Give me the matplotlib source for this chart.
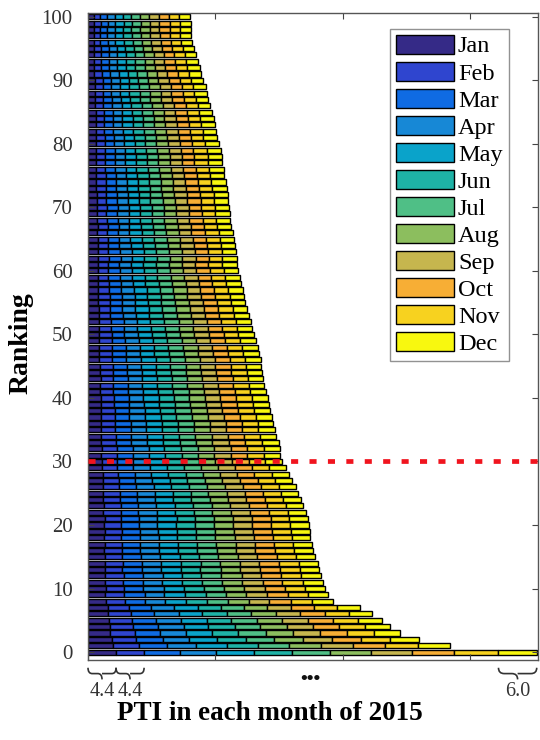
import numpy as np
import matplotlib
matplotlib.use("Agg")
import matplotlib.pyplot as plt
from matplotlib.path import Path
from matplotlib.patches import PathPatch
import matplotlib.transforms as mtransforms

months = ["Jan", "Feb", "Mar", "Apr", "May", "Jun",
          "Jul", "Aug", "Sep", "Oct", "Nov", "Dec"]
month_colors = ["#352A87", "#2F45CF", "#0F6BE3", "#1788D6", "#0AA3CA", "#1EB2A6",
                "#4FBF86", "#8CBE5E", "#C6B64E", "#F7AE35", "#F7D21F", "#F8F80F"]

# Ranking positions (bottom bar = top ranked)
ranking = list(range(0, 101))

# Monthly PTI per ranked item, Jan..Dec, listed from ranking 0 upwards
pti_rows = [
    [4.4, 4.4, 5.6, 5.7, 5.9, 6.0, 6.0, 6.4, 6.5, 6.5, 7.0, 6.0],
    [3.9, 4.1, 4.4, 4.6, 4.8, 4.9, 4.8, 5.0, 5.0, 5.1, 5.2, 5.0],
    [3.7, 3.9, 4.1, 4.2, 4.4, 4.5, 4.4, 4.6, 4.5, 4.6, 4.5, 4.5],
    [3.5, 3.8, 4.0, 4.1, 4.0, 4.2, 4.3, 4.2, 4.3, 4.2, 4.3, 4.1],
    [3.4, 3.7, 3.9, 4.0, 3.9, 4.1, 4.0, 4.2, 4.1, 4.1, 4.0, 4.0],
    [3.3, 3.6, 3.8, 3.9, 4.0, 3.9, 4.0, 3.9, 4.1, 4.0, 3.9, 3.8],
    [3.2, 3.5, 3.7, 3.8, 3.7, 3.9, 3.8, 3.9, 3.8, 3.9, 3.7, 3.7],
    [3.1, 3.3, 3.5, 3.6, 3.7, 3.6, 3.7, 3.6, 3.7, 3.6, 3.6, 3.6],
    [2.8, 3.0, 3.1, 3.2, 3.3, 3.2, 3.3, 3.3, 3.2, 3.4, 3.3, 3.3],
    [2.7, 3.0, 3.2, 3.1, 3.2, 3.3, 3.1, 3.2, 3.3, 3.2, 3.2, 3.1],
    [2.8, 2.9, 3.0, 3.2, 3.1, 3.2, 3.2, 3.1, 3.2, 3.2, 3.1, 3.2],
    [2.6, 2.9, 3.1, 3.0, 3.2, 3.1, 3.2, 3.1, 3.2, 3.1, 3.2, 3.1],
    [2.7, 2.9, 3.0, 3.1, 3.0, 3.1, 3.1, 3.2, 3.1, 3.1, 3.1, 3.1],
    [2.6, 2.8, 3.0, 3.1, 3.1, 3.0, 3.2, 3.1, 3.1, 3.1, 3.1, 3.1],
    [2.7, 2.8, 3.0, 3.0, 3.1, 3.1, 3.0, 3.1, 3.1, 3.1, 3.1, 3.0],
    [2.6, 2.8, 2.9, 3.0, 3.1, 3.0, 3.0, 3.1, 3.0, 3.1, 3.0, 3.0],
    [2.5, 2.8, 2.9, 3.0, 2.9, 3.0, 3.1, 3.0, 3.0, 3.1, 3.0, 3.0],
    [2.6, 2.7, 2.9, 2.9, 3.0, 3.0, 3.0, 3.1, 3.0, 3.0, 3.0, 2.9],
    [2.5, 2.7, 2.9, 3.0, 2.9, 3.0, 3.0, 3.0, 3.0, 3.0, 3.0, 2.9],
    [2.6, 2.7, 2.8, 2.9, 3.0, 3.0, 2.9, 3.0, 3.0, 3.0, 3.0, 2.9],
    [2.5, 2.7, 2.8, 2.9, 2.9, 3.0, 3.0, 2.9, 3.0, 3.0, 3.0, 2.9],
    [2.6, 2.6, 2.8, 2.9, 3.0, 2.9, 3.0, 3.0, 2.9, 3.0, 2.9, 2.9],
    [2.4, 2.7, 2.8, 2.9, 2.9, 2.9, 2.9, 3.0, 2.9, 3.0, 2.9, 2.9],
    [2.5, 2.6, 2.8, 2.8, 2.9, 2.9, 2.9, 2.9, 2.9, 2.9, 2.9, 2.8],
    [2.4, 2.6, 2.7, 2.8, 2.9, 2.8, 2.9, 2.9, 2.8, 2.9, 2.9, 2.8],
    [2.4, 2.6, 2.7, 2.8, 2.8, 2.8, 2.8, 2.9, 2.8, 2.8, 2.9, 2.7],
    [2.3, 2.6, 2.7, 2.7, 2.8, 2.8, 2.8, 2.8, 2.8, 2.9, 2.8, 2.7],
    [2.3, 2.5, 2.6, 2.7, 2.7, 2.8, 2.7, 2.8, 2.7, 2.8, 2.7, 2.7],
    [2.3, 2.4, 2.6, 2.6, 2.7, 2.7, 2.7, 2.7, 2.7, 2.7, 2.7, 2.7],
    [2.2, 2.4, 2.5, 2.6, 2.7, 2.6, 2.7, 2.7, 2.6, 2.7, 2.7, 2.6],
    [2.2, 2.4, 2.5, 2.5, 2.6, 2.6, 2.6, 2.6, 2.6, 2.6, 2.6, 2.6],
    [2.1, 2.4, 2.5, 2.5, 2.6, 2.6, 2.5, 2.6, 2.6, 2.6, 2.6, 2.6],
    [2.2, 2.3, 2.5, 2.5, 2.5, 2.6, 2.6, 2.6, 2.6, 2.6, 2.6, 2.5],
    [2.1, 2.3, 2.4, 2.5, 2.5, 2.6, 2.6, 2.5, 2.6, 2.6, 2.6, 2.6],
    [2.1, 2.3, 2.4, 2.5, 2.5, 2.5, 2.5, 2.6, 2.5, 2.6, 2.5, 2.5],
    [2.0, 2.3, 2.4, 2.4, 2.5, 2.5, 2.5, 2.5, 2.5, 2.6, 2.5, 2.6],
    [2.1, 2.2, 2.4, 2.4, 2.5, 2.5, 2.5, 2.5, 2.5, 2.5, 2.5, 2.5],
    [2.0, 2.2, 2.3, 2.4, 2.5, 2.4, 2.5, 2.5, 2.5, 2.5, 2.5, 2.5],
    [2.0, 2.2, 2.3, 2.4, 2.4, 2.4, 2.5, 2.4, 2.5, 2.5, 2.5, 2.5],
    [2.0, 2.1, 2.3, 2.4, 2.4, 2.4, 2.4, 2.5, 2.4, 2.5, 2.5, 2.5],
    [2.0, 2.1, 2.3, 2.3, 2.4, 2.4, 2.4, 2.4, 2.4, 2.5, 2.5, 2.5],
    [1.9, 2.1, 2.3, 2.3, 2.4, 2.4, 2.4, 2.4, 2.4, 2.4, 2.4, 2.5],
    [1.9, 2.1, 2.2, 2.3, 2.4, 2.3, 2.4, 2.4, 2.4, 2.4, 2.4, 2.4],
    [2.0, 2.0, 2.2, 2.3, 2.3, 2.4, 2.4, 2.3, 2.4, 2.4, 2.4, 2.4],
    [1.9, 2.0, 2.2, 2.3, 2.3, 2.3, 2.4, 2.4, 2.3, 2.4, 2.4, 2.4],
    [1.9, 2.0, 2.2, 2.2, 2.3, 2.3, 2.4, 2.3, 2.4, 2.4, 2.4, 2.4],
    [1.8, 2.0, 2.2, 2.3, 2.3, 2.3, 2.3, 2.4, 2.3, 2.4, 2.4, 2.4],
    [1.8, 2.0, 2.1, 2.2, 2.3, 2.3, 2.3, 2.3, 2.3, 2.4, 2.3, 2.5],
    [1.8, 2.0, 2.1, 2.2, 2.2, 2.3, 2.3, 2.3, 2.3, 2.3, 2.3, 2.5],
    [1.8, 1.9, 2.1, 2.2, 2.2, 2.2, 2.3, 2.2, 2.3, 2.3, 2.4, 2.4],
    [1.8, 1.9, 2.0, 2.1, 2.2, 2.2, 2.2, 2.3, 2.3, 2.3, 2.3, 2.4],
    [1.7, 1.9, 2.0, 2.1, 2.2, 2.2, 2.2, 2.2, 2.3, 2.3, 2.3, 2.4],
    [1.7, 1.9, 2.0, 2.1, 2.1, 2.2, 2.2, 2.2, 2.2, 2.3, 2.3, 2.3],
    [1.7, 1.8, 2.0, 2.0, 2.1, 2.2, 2.2, 2.2, 2.2, 2.2, 2.3, 2.3],
    [1.7, 1.8, 1.9, 2.0, 2.1, 2.1, 2.2, 2.2, 2.2, 2.2, 2.3, 2.3],
    [1.6, 1.8, 1.9, 2.0, 2.1, 2.1, 2.1, 2.2, 2.2, 2.2, 2.2, 2.3],
    [1.6, 1.8, 1.9, 2.0, 2.0, 2.1, 2.1, 2.1, 2.2, 2.2, 2.2, 2.3],
    [1.6, 1.7, 1.9, 2.0, 2.0, 2.1, 2.1, 2.1, 2.1, 2.2, 2.2, 2.3],
    [1.6, 1.7, 1.8, 1.9, 2.0, 2.1, 2.1, 2.1, 2.1, 2.1, 2.2, 2.3],
    [1.5, 1.7, 1.8, 1.9, 2.0, 2.0, 2.1, 2.1, 2.1, 2.1, 2.2, 2.3],
    [1.5, 1.7, 1.8, 1.9, 1.9, 2.0, 2.0, 2.1, 2.1, 2.1, 2.2, 2.2],
    [1.5, 1.6, 1.8, 1.9, 1.9, 2.0, 2.0, 2.0, 2.1, 2.1, 2.2, 2.2],
    [1.6, 1.7, 1.8, 1.8, 1.9, 2.0, 2.0, 2.0, 2.1, 2.1, 2.1, 2.2],
    [1.5, 1.7, 1.8, 1.9, 1.9, 1.9, 2.0, 2.0, 2.1, 2.1, 2.1, 2.2],
    [1.5, 1.6, 1.8, 1.8, 1.9, 1.9, 2.0, 2.0, 2.1, 2.1, 2.2, 2.2],
    [1.5, 1.6, 1.7, 1.8, 1.9, 1.9, 2.0, 2.0, 2.0, 2.1, 2.2, 2.2],
    [1.4, 1.6, 1.7, 1.8, 1.9, 1.9, 1.9, 2.0, 2.0, 2.1, 2.2, 2.2],
    [1.5, 1.6, 1.7, 1.7, 1.8, 1.9, 1.9, 2.0, 2.0, 2.1, 2.1, 2.2],
    [1.4, 1.6, 1.7, 1.7, 1.8, 1.9, 1.9, 1.9, 2.0, 2.1, 2.1, 2.2],
    [1.4, 1.5, 1.7, 1.8, 1.8, 1.8, 1.9, 1.9, 2.0, 2.1, 2.1, 2.2],
    [1.4, 1.6, 1.7, 1.7, 1.8, 1.8, 1.9, 1.9, 2.0, 2.0, 2.1, 2.2],
    [1.4, 1.5, 1.6, 1.7, 1.8, 1.8, 1.9, 1.9, 2.0, 2.1, 2.1, 2.2],
    [1.4, 1.5, 1.6, 1.7, 1.8, 1.8, 1.8, 1.9, 2.0, 2.1, 2.1, 2.2],
    [1.3, 1.5, 1.6, 1.7, 1.8, 1.8, 1.8, 1.9, 2.0, 2.0, 2.1, 2.3],
    [1.3, 1.5, 1.6, 1.7, 1.7, 1.8, 1.8, 1.9, 1.9, 2.0, 2.1, 2.3],
    [1.3, 1.5, 1.6, 1.6, 1.7, 1.8, 1.8, 1.9, 1.9, 2.0, 2.1, 2.2],
    [1.3, 1.4, 1.6, 1.6, 1.7, 1.8, 1.8, 1.8, 1.9, 2.0, 2.1, 2.3],
    [1.3, 1.4, 1.5, 1.6, 1.7, 1.7, 1.8, 1.8, 1.9, 2.0, 2.1, 2.3],
    [1.3, 1.4, 1.5, 1.6, 1.7, 1.7, 1.8, 1.8, 1.9, 2.0, 2.1, 2.2],
    [1.3, 1.4, 1.5, 1.6, 1.6, 1.7, 1.8, 1.8, 1.9, 1.9, 2.1, 2.2],
    [1.2, 1.4, 1.5, 1.6, 1.6, 1.7, 1.7, 1.8, 1.9, 1.9, 2.1, 2.2],
    [1.2, 1.4, 1.5, 1.5, 1.6, 1.7, 1.7, 1.8, 1.8, 1.9, 2.0, 2.2],
    [1.2, 1.3, 1.5, 1.5, 1.6, 1.7, 1.7, 1.8, 1.8, 1.9, 2.0, 2.1],
    [1.2, 1.3, 1.4, 1.5, 1.6, 1.6, 1.7, 1.8, 1.8, 1.9, 2.0, 2.1],
    [1.2, 1.3, 1.4, 1.5, 1.6, 1.6, 1.7, 1.7, 1.8, 1.9, 1.9, 2.1],
    [1.2, 1.3, 1.4, 1.5, 1.5, 1.6, 1.7, 1.7, 1.8, 1.8, 1.9, 2.1],
    [1.1, 1.3, 1.4, 1.5, 1.5, 1.6, 1.6, 1.7, 1.8, 1.8, 1.9, 2.0],
    [1.1, 1.2, 1.4, 1.4, 1.5, 1.6, 1.6, 1.7, 1.7, 1.8, 1.9, 2.0],
    [1.1, 1.2, 1.3, 1.4, 1.5, 1.6, 1.6, 1.7, 1.7, 1.8, 1.8, 2.0],
    [1.1, 1.2, 1.3, 1.4, 1.5, 1.5, 1.6, 1.7, 1.7, 1.7, 1.8, 2.0],
    [1.1, 1.2, 1.3, 1.4, 1.4, 1.5, 1.5, 1.6, 1.7, 1.7, 1.8, 1.9],
    [1.0, 1.2, 1.3, 1.3, 1.4, 1.5, 1.5, 1.6, 1.6, 1.7, 1.8, 1.9],
    [1.0, 1.1, 1.2, 1.3, 1.4, 1.4, 1.5, 1.6, 1.6, 1.7, 1.8, 1.9],
    [1.0, 1.1, 1.2, 1.3, 1.4, 1.4, 1.5, 1.5, 1.6, 1.7, 1.7, 1.8],
    [1.0, 1.1, 1.2, 1.3, 1.3, 1.4, 1.5, 1.5, 1.6, 1.6, 1.7, 1.8],
    [1.0, 1.1, 1.2, 1.2, 1.3, 1.4, 1.4, 1.5, 1.5, 1.6, 1.7, 1.7],
    [0.9, 1.0, 1.2, 1.2, 1.3, 1.4, 1.4, 1.5, 1.5, 1.6, 1.6, 1.7],
    [0.9, 1.0, 1.1, 1.2, 1.3, 1.4, 1.4, 1.5, 1.5, 1.6, 1.6, 1.7],
    [0.9, 1.0, 1.1, 1.2, 1.3, 1.3, 1.4, 1.5, 1.5, 1.6, 1.6, 1.7],
    [0.9, 1.1, 1.1, 1.2, 1.3, 1.3, 1.4, 1.4, 1.5, 1.6, 1.6, 1.7],
    [0.9, 1.0, 1.1, 1.2, 1.3, 1.3, 1.4, 1.4, 1.5, 1.6, 1.6, 1.7],
]

cutoff_rank = 30
yticks = list(range(0, 101, 10))
xticks = [0, 20, 40, 60]

serif = ["Liberation Serif", "DejaVu Serif"]
plt.rcParams["font.family"] = serif

fig = plt.figure(figsize=(5.4, 7.4), dpi=100)
ax = fig.add_axes([88 / 540, 80 / 740, 450 / 540, 647 / 740])

pti = np.array(pti_rows)
left = np.zeros(len(ranking))
for m, name in enumerate(months):
    ax.barh(ranking, pti[:, m], left=left, height=0.8,
            color=month_colors[m], edgecolor="black", linewidth=1.0,
            label=name)
    left = left + pti[:, m]

ax.axhline(cutoff_rank, color="#f0141e", linewidth=3.4,
           linestyle=(0, (1.5, 2.4)), zorder=5)

ax.set_xlim(0, 70.6)
ax.set_ylim(-1.25, 100.6)
ax.set_yticks(yticks)
ax.set_xticks(xticks)
ax.set_xticklabels([])
ax.tick_params(axis="both", direction="in", length=4, width=0.8,
               color="#444444", top=True, right=True, labelsize=15,
               labelcolor="#333333")
ax.tick_params(axis="y", pad=11)
for sp in ax.spines.values():
    sp.set_color("#555555")
    sp.set_linewidth(1.0)

ax.set_ylabel("Ranking", fontsize=20, fontweight="bold")
ax.yaxis.set_label_coords(-0.122, 0.49)
fig.text(270 / 540, 1 - 713 / 740, "PTI in each month of 2015",
         ha="center", va="center", fontsize=19.5, fontweight="bold")

leg = ax.legend(loc="upper left", bbox_to_anchor=(0.672, 0.976),
                fontsize=17.5, frameon=True, fancybox=False,
                handlelength=2.35, handleheight=0.82, handletextpad=0.18,
                labelspacing=0.17, borderpad=0.25, borderaxespad=0.0)
leg.get_frame().set_edgecolor("#777777")
leg.get_frame().set_linewidth(1.0)

# Curly braces marking the first two and the last month of the top-ranked row
trans = mtransforms.blended_transform_factory(ax.transData, ax.transAxes)
top_row = pti_rows[0]
spans = [(0.0, top_row[0], f"{top_row[0]:.1f}"),
         (top_row[0], top_row[0] + top_row[1], f"{top_row[1]:.1f}"),
         (sum(top_row) - top_row[-1], sum(top_row), f"{top_row[-1]:.1f}")]


def brace(x0, x1, y_top, y_bot):
    xm = 0.5 * (x0 + x1)
    yh = 0.5 * (y_top + y_bot)
    w = x1 - x0
    verts = [(x0, y_top), (x0, yh), (x0 + 0.15 * w, yh),
             (xm - 0.15 * w, yh), (xm, yh), (xm, y_bot),
             (xm, yh), (xm + 0.15 * w, yh), (x1 - 0.15 * w, yh),
             (x1, yh), (x1, y_top)]
    codes = [Path.MOVETO, Path.CURVE3, Path.CURVE3,
             Path.LINETO, Path.CURVE3, Path.CURVE3,
             Path.MOVETO, Path.CURVE3, Path.CURVE3, Path.CURVE3, Path.CURVE3]
    return Path(verts, codes)


for x0, x1, lab in spans:
    p = PathPatch(brace(x0, x1, -0.012, -0.030), transform=trans,
                  facecolor="none", edgecolor="#333333", linewidth=1.2,
                  clip_on=False)
    ax.add_patch(p)
    ax.text(0.5 * (x0 + x1), -0.049, lab, transform=trans, ha="center",
            va="center", fontsize=14.5, color="#333333", clip_on=False)

ax.text(0.494, -0.030, "\u2022\u2022\u2022", transform=ax.transAxes,
        ha="center", va="center", fontsize=14, fontweight="bold",
        color="#111111")

fig.savefig("out.png", dpi=100)
